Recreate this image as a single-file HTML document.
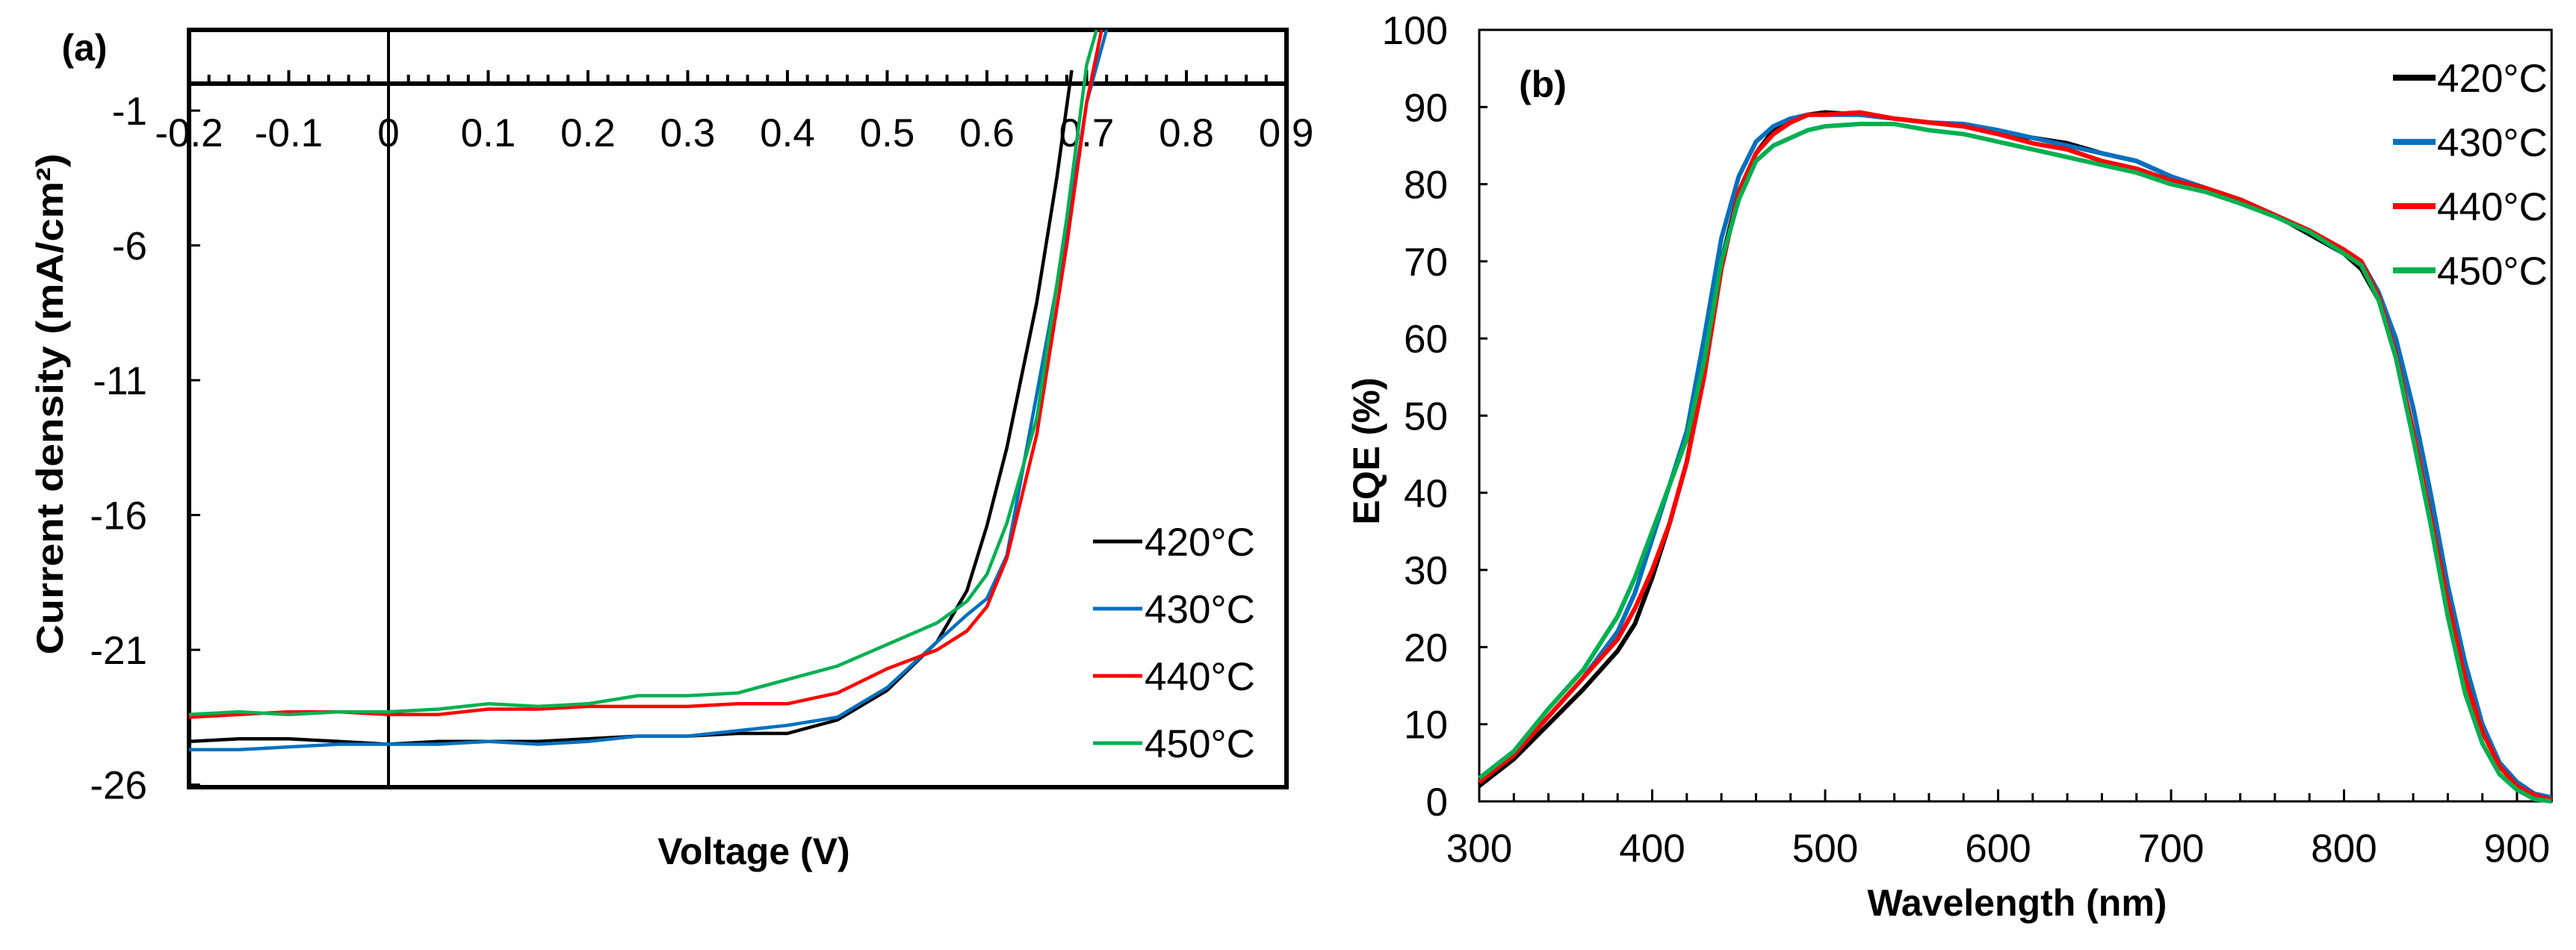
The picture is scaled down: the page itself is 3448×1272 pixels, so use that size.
<!DOCTYPE html>
<html><head><meta charset="utf-8"><style>
html,body{margin:0;padding:0;background:#fff;}
svg{display:block;font-family:"Liberation Sans",Arial,sans-serif;}
</style></head><body>
<svg id="fig" width="3448" height="1272" viewBox="0 0 3448 1272" xmlns="http://www.w3.org/2000/svg">
<g id="pa"></g>
<g id="pb"></g>
</svg>
<script>
// ---------- Panel (a) data ----------
const seriesNames = ["420°C","430°C","440°C","450°C"];
const seriesColors = ["#000000","#0070C0","#FF0000","#00B050"];
const jvV420 = [-0.2,-0.15,-0.1,-0.05,0,0.05,0.1,0.15,0.2,0.25,0.3,0.35,0.4,0.45,0.5,0.55,0.58,0.6,0.62,0.65,0.67,0.685];
const jvJ420 = [-24.4,-24.3,-24.3,-24.4,-24.5,-24.4,-24.4,-24.4,-24.3,-24.2,-24.2,-24.1,-24.1,-23.6,-22.5,-20.7,-18.8,-16.4,-13.5,-8.1,-3.5,0.5];
const jvV430 = [-0.2,-0.15,-0.1,-0.05,0,0.05,0.1,0.15,0.2,0.25,0.3,0.35,0.4,0.45,0.5,0.55,0.58,0.6,0.62,0.65,0.68,0.7,0.72];
const jvJ430 = [-24.7,-24.7,-24.6,-24.5,-24.5,-24.5,-24.4,-24.5,-24.4,-24.2,-24.2,-24.0,-23.8,-23.5,-22.4,-20.7,-19.7,-19.1,-17.5,-11.5,-5.5,-0.7,2.0];
const jvV440 = [-0.2,-0.15,-0.1,-0.05,0,0.05,0.1,0.15,0.2,0.25,0.3,0.35,0.4,0.45,0.5,0.55,0.58,0.6,0.62,0.65,0.68,0.7,0.715];
const jvJ440 = [-23.5,-23.4,-23.3,-23.3,-23.4,-23.4,-23.2,-23.2,-23.1,-23.1,-23.1,-23.0,-23.0,-22.6,-21.7,-21.0,-20.3,-19.4,-17.6,-13.0,-6.0,-0.7,2.0];
const jvV450 = [-0.2,-0.15,-0.1,-0.05,0,0.05,0.1,0.15,0.2,0.25,0.3,0.35,0.4,0.45,0.5,0.55,0.58,0.6,0.62,0.65,0.68,0.7,0.71];
const jvJ450 = [-23.4,-23.3,-23.4,-23.3,-23.3,-23.2,-23.0,-23.1,-23.0,-22.7,-22.7,-22.6,-22.1,-21.6,-20.8,-20.0,-19.2,-18.2,-16.3,-12.4,-5.0,0.7,2.0];
const jvTicksY = [-1,-6,-11,-16,-21,-26];
const jvTicksX = ["-0.2","-0.1","0","0.1","0.2","0.3","0.4","0.5","0.6","0.7","0.8","0.9"];

// ---------- Panel (b) data ----------
const wl = [300,320,340,360,380,390,400,410,420,430,440,450,460,470,480,490,500,520,540,560,580,600,620,640,660,680,700,720,740,760,780,800,810,820,830,840,850,860,870,880,890,900,910,920];
const eqe420 = [2,5.5,10,14.5,19.5,23,29,36,44,56,70,79,84,87,88,89,89.3,89,88.5,88,87.5,86.5,86,85.3,84,83,81,79.5,78,76,73.5,71,69,65,58,48,37,26,16,9,5,2.5,1,0.3];
const eqe430 = [2.5,6,11,16,22,27,34,41,48,60,73,81,85.5,87.5,88.5,89,89,89,88.5,88,87.8,87,86,85,84,83,81,79.5,78,76,74,71.5,70,66,60,51,40,28,18,10,5,2.5,1,0.5];
const eqe440 = [2.5,6,11,16,21,25,30,36,44,55,69,79,84,86.5,88,89,89,89.3,88.5,88,87.5,86.5,85.3,84.5,83,82,80.5,79.5,78,76,74,71.5,70,65.5,58,48,37,26,16,9,4.5,2,0.8,0.2];
const eqe450 = [3,6.5,12,17,24,29,35,41,47,57,70,78,83,85,86,87,87.5,87.8,87.8,87,86.5,85.5,84.5,83.5,82.5,81.5,80,79,77.5,75.8,73.8,71,69.5,65,57.5,47,36,24,14,7.5,3.5,1.5,0.3,0];
const eqeTicksY = [0,10,20,30,40,50,60,70,80,90,100];
const eqeTicksX = [300,400,500,600,700,800,900];

const NS="http://www.w3.org/2000/svg";
function mk(parent,tag,attrs,text){const e=document.createElementNS(NS,tag);for(const k in attrs)e.setAttribute(k,attrs[k]);if(text!==undefined)e.textContent=text;parent.appendChild(e);return e;}

// ===== Panel a =====
const pa=document.getElementById('pa');
const axL=253, axR=1722, axT=40, axB=1054;
const xa=v=>520+v*1335;
const ya=j=>112-j*36.1;
mk(pa,'clipPath',{id:'clipa'});
mk(document.getElementById('clipa'),'rect',{x:axL,y:axT,width:axR-axL,height:axB-axT});
let e=mk(pa,'rect',{x:axL,y:axT,width:axR-axL,height:axB-axT,fill:'none',stroke:'#000','stroke-width':6});


e=mk(pa,'line',{x1:xa(0),y1:axT,x2:xa(0),y2:axB,stroke:'#000','stroke-width':4});


e=mk(pa,'line',{x1:axL,y1:ya(0),x2:axR,y2:ya(0),stroke:'#000','stroke-width':6});


for(let i=0;i<=55;i++){const v=-0.2+i*0.02;const major=(i%5===0);
  e=mk(pa,'line',{x1:xa(v),y1:ya(0),x2:xa(v),y2:ya(0)-(major?18:12),stroke:'#000','stroke-width':4});
  
  
}
jvTicksX.forEach((t)=>{const v=parseFloat(t);
  e=mk(pa,'text',{x:xa(v),y:196,'font-size':53,'text-anchor':'middle',fill:'#000'},t);
  
  
});
jvTicksY.forEach(t=>{
  e=mk(pa,'line',{x1:axL,y1:ya(t),x2:axL+15,y2:ya(t),stroke:'#000','stroke-width':3});
  
  
  e=mk(pa,'text',{x:197,y:ya(t)+19,'font-size':53,'text-anchor':'end',fill:'#000'},String(t));
  
  
});
const jvX=[jvV420,jvV430,jvV440,jvV450], jvY=[jvJ420,jvJ430,jvJ440,jvJ450];
const ga=mk(pa,'g',{'clip-path':'url(#clipa)'});
for(let s=0;s<4;s++){
  const pts=jvX[s].map((v,i)=>xa(v).toFixed(1)+','+ya(jvY[s][i]).toFixed(1)).join(' ');
  e=mk(ga,'polyline',{points:pts,fill:'none',stroke:seriesColors[s],'stroke-width':4.5,'stroke-linejoin':'round'});
  
  
}
const legAy=[725,815,905,995];
for(let s=0;s<4;s++){
  e=mk(pa,'line',{x1:1463,y1:legAy[s],x2:1529,y2:legAy[s],stroke:seriesColors[s],'stroke-width':5});
  
  
  e=mk(pa,'text',{x:1532,y:legAy[s]+19,'font-size':53,fill:'#000'},seriesNames[s]);
  
  
}
e=mk(pa,'text',{x:0,y:0,'font-size':50,'font-weight':'bold','text-anchor':'middle',transform:'translate(84,541) rotate(-90)',textLength:671,lengthAdjust:'spacingAndGlyphs'},'Current density (mA/cm²)');


e=mk(pa,'text',{x:1009,y:1157,'font-size':50,'font-weight':'bold','text-anchor':'middle'},'Voltage (V)');


e=mk(pa,'text',{x:113,y:81,'font-size':50,'font-weight':'bold','text-anchor':'middle'},'(a)');



// ===== Panel b =====
const pb=document.getElementById('pb');
const xb=n=>1980+(n-300)*2.315;
const yb=p=>1073-p*10.33;
e=mk(pb,'rect',{x:xb(300),y:yb(100),width:xb(920)-xb(300),height:yb(0)-yb(100),fill:'none',stroke:'#000','stroke-width':3});


for(let n=300;n<=920;n+=20){const major=(n%100===0);
  e=mk(pb,'line',{x1:xb(n),y1:yb(0),x2:xb(n),y2:yb(0)-(major?16:11),stroke:'#000','stroke-width':3});
  
  
}
eqeTicksX.forEach(t=>{
  e=mk(pb,'text',{x:xb(t),y:1154,'font-size':53,'text-anchor':'middle'},String(t));
  
  
});
eqeTicksY.forEach(t=>{
  e=mk(pb,'line',{x1:xb(300),y1:yb(t),x2:xb(300)+11,y2:yb(t),stroke:'#000','stroke-width':3});
  
  
  e=mk(pb,'text',{x:1938,y:yb(t)+19,'font-size':53,'text-anchor':'end'},String(t));
  
  
});
const eqeY=[eqe420,eqe430,eqe440,eqe450];
for(let s=0;s<4;s++){
  const pts=wl.map((n,i)=>xb(n).toFixed(1)+','+yb(eqeY[s][i]).toFixed(1)).join(' ');
  e=mk(pb,'polyline',{points:pts,fill:'none',stroke:seriesColors[s],'stroke-width':6,'stroke-linejoin':'round'});
  
  
}
const legBy=[104,190,276,362];
for(let s=0;s<4;s++){
  e=mk(pb,'line',{x1:3203,y1:legBy[s],x2:3260,y2:legBy[s],stroke:seriesColors[s],'stroke-width':8});
  
  
  e=mk(pb,'text',{x:3262,y:legBy[s]+19,'font-size':53},seriesNames[s]);
  
  
}
e=mk(pb,'text',{x:0,y:0,'font-size':50,'font-weight':'bold','text-anchor':'middle',transform:'translate(1846,604) rotate(-90)'},'EQE  (%)');


e=mk(pb,'text',{x:2700,y:1226,'font-size':50,'font-weight':'bold','text-anchor':'middle'},'Wavelength (nm)');


e=mk(pb,'text',{x:2065,y:130,'font-size':50,'font-weight':'bold','text-anchor':'middle'},'(b)');


</script>
</body></html>
